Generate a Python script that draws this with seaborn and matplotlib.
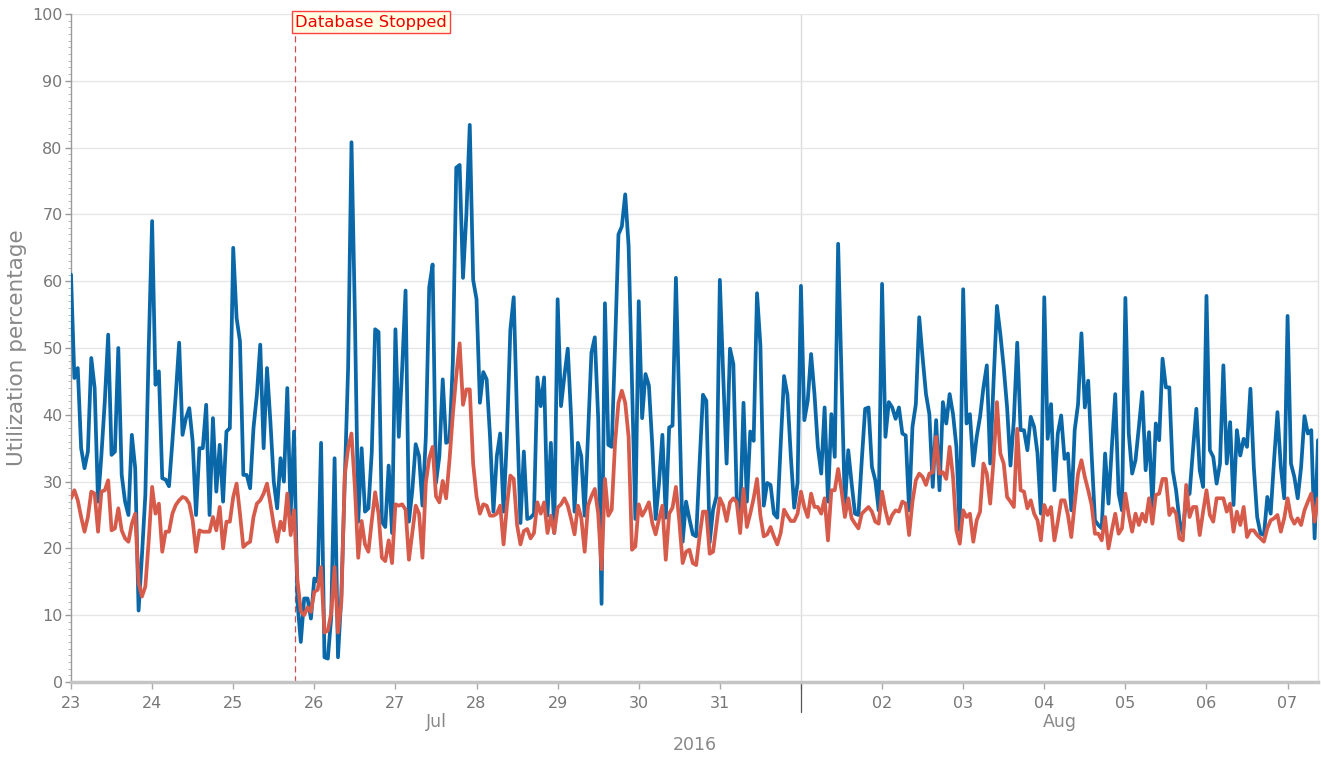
import numpy as np
import pandas as pd
import matplotlib
matplotlib.use("Agg")
import matplotlib.pyplot as plt
from matplotlib.ticker import MultipleLocator
import seaborn as sns

# hourly samples starting 2016-07-23 00:00, one row per day
start_time = "2016-07-23 00:00"

total_util = [
    61, 45.5, 47, 35, 32, 34.5, 48.5, 44, 27, 34, 42, 52, 34, 34.5, 50, 31, 27, 25, 37, 32, 10.7, 19, 28, 50,
    69, 44.5, 46.5, 30.5, 30.3, 29.3, 36, 43, 50.8, 37, 39.5, 41, 36, 25, 35, 35, 41.5, 25, 39.5, 28.5, 35.5, 27, 37.5, 38,
    65, 54.5, 51, 31, 31, 29, 38, 43, 50.5, 35, 47, 39, 30, 26, 33.5, 30, 44, 25, 37.5, 12, 6, 12.5, 12.5, 9.5,
    15.5, 15, 35.8, 3.7, 3.5, 9.7, 33.5, 3.7, 13, 30, 47, 80.8, 55, 24, 35, 25.5, 26, 34.4, 52.8, 52.4, 24, 23.2, 32.4, 22.3,
    52.8, 36.7, 47, 58.6, 24, 28.7, 35.6, 33.8, 26.4, 36.7, 59.1, 62.5, 29.8, 33.8, 45.3, 35.8, 36.1, 48, 77, 77.4, 60.5, 70, 83.4, 60.2,
    57.3, 41.8, 46.4, 45.3, 36.7, 25.5, 33.8, 37.2, 25.5, 36.7, 52.7, 57.6, 39.5, 23.8, 34.5, 24.4, 24.6, 25.2, 45.6, 41.3, 45.6, 24.9, 35.8, 22.3,
    57.3, 41.3, 45.8, 49.9, 39.5, 25.5, 35.8, 33.8, 24.9, 37.2, 49.3, 51.6, 39.5, 11.7, 56.7, 35.5, 35.2, 50.4, 67, 68.2, 73, 65.3, 45, 24.4,
    57, 39.5, 46.1, 44.4, 35.5, 24.4, 29.8, 37, 24.6, 38.1, 38.4, 60.5, 41.3, 21, 27, 24.4, 22.1, 21.8, 32.7, 43, 42.1, 20.9, 25.8, 27.8,
    60.2, 45.8, 32.7, 49.9, 47.6, 27.5, 24.6, 41.8, 27, 37.5, 36.1, 58.2, 50.4, 26.4, 29.8, 29.5, 25.2, 24.6, 35.5, 45.8, 43, 33.8, 26.1, 29.8,
    59.3, 39.2, 42.1, 49.1, 43.1, 35.2, 31.2, 41.1, 27, 40.1, 33.7, 65.6, 46.1, 26.2, 34.7, 29.7, 25.2, 25, 33.2, 40.9, 41.1, 32.2, 30.2, 25.7,
    59.6, 36.7, 41.9, 41.1, 39.4, 41.1, 37.2, 36.9, 25.7, 38.2, 41.6, 54.6, 48.6, 43.1, 40.1, 29.2, 39.2, 28.7, 41.9, 38.7, 43.1, 40.1, 35.2, 22.7,
    58.8, 38.7, 40.1, 32.4, 36.7, 39.7, 44.1, 47.4, 32.7, 45, 56.3, 52.1, 47.1, 41.1, 32.4, 39.2, 50.8, 37.7, 37.7, 34.7, 39.7, 38.2, 34.2, 25.2,
    57.6, 36.4, 41.6, 28.7, 37.2, 39.9, 33.4, 34.2, 25.7, 37.7, 41.6, 52.2, 41.1, 45.1, 34.2, 24.2, 23.5, 23, 34.2, 26.7, 35.2, 43.1, 28.2, 25.7,
    57.5, 37.2, 31.2, 33.2, 38.2, 43.4, 31.7, 37.4, 26.2, 38.7, 36.2, 48.4, 44.1, 44.1, 31.7, 28.7, 24.2, 22.2, 27.7, 28.2, 34.7, 40.9, 31.7, 29.2,
    57.8, 34.7, 33.7, 29.7, 32.7, 47.4, 32.7, 38.9, 26.5, 37.7, 33.9, 36.4, 35.2, 43.9, 32.2, 24.7, 22.2, 22, 27.7, 25.2, 33.2, 40.4, 32.2, 27.5,
    54.8, 32.7, 30.7, 27.5, 32.2, 39.8, 37.2, 37.7, 21.5, 36.2,
]

db_util = [
    27.5, 28.7, 27.2, 24.7, 22.5, 24.7, 28.5, 28.2, 22.5, 28.5, 28.7, 30.2, 22.7, 23, 26, 22.7, 21.5, 21, 23.7, 25.2, 14.8, 12.8, 14.3, 21.2,
    29.2, 25.2, 26.7, 19.5, 22.5, 22.5, 25.2, 26.5, 27.2, 27.7, 27.5, 26.7, 24.2, 19.5, 22.7, 22.5, 22.5, 22.5, 24.7, 22.7, 26.2, 20, 24, 24,
    27.7, 29.7, 25.2, 20.2, 20.7, 21, 24.7, 26.7, 27.2, 28.2, 29.7, 26.7, 23.5, 21, 24, 22.7, 28.2, 22, 25.7, 15.3, 10.6, 10, 11.2, 10.5,
    13.5, 13.8, 17.2, 7.4, 7.7, 10.3, 17.2, 7.4, 12, 30.9, 35, 37.2, 29.2, 18.6, 24.1, 20.6, 19.5, 24.1, 28.4, 25.2, 18.6, 18.1, 21.2, 17.8,
    26.6, 26.4, 26.6, 25.8, 18.3, 22.3, 26.4, 25.2, 18.6, 29.8, 33.5, 35.2, 27.8, 26.9, 30.1, 27.5, 33.2, 40.1, 45.8, 50.7, 41.5, 43.8, 43.8, 32.7,
    27.8, 25.2, 26.6, 26.4, 24.9, 24.9, 25.2, 26.4, 20.6, 26.4, 30.9, 30.4, 23.5, 20.6, 22.6, 22.9, 21.5, 22.3, 26.9, 25.2, 26.9, 22.3, 24.9, 22.3,
    26.1, 26.6, 27.5, 26.4, 24.4, 22.1, 26.4, 24.6, 19.5, 26.4, 27.8, 28.9, 25.2, 16.9, 30.4, 24.9, 25.8, 35.8, 41.8, 43.6, 41.8, 36.7, 19.8, 20.3,
    26.6, 24.9, 25.8, 26.9, 23.8, 22.1, 24.4, 26.4, 18.3, 25.2, 26.1, 29.2, 24.1, 17.8, 19.5, 19.8, 17.8, 17.5, 21.8, 25.5, 25.5, 19.2, 19.5, 23.5,
    27.5, 26.4, 24.1, 26.9, 27.5, 26.9, 22.3, 28.9, 23.2, 25.2, 27.5, 30.4, 24.9, 21.8, 22.1, 23.2, 21.8, 20.6, 22.3, 25.8, 24.9, 24.1, 24.1, 25.2,
    28.5, 26.2, 24.7, 28.2, 26.2, 26.2, 25.2, 27.5, 21.2, 28.7, 28.7, 31.9, 28.7, 24.7, 27.5, 24.5, 23.7, 23, 25.2, 25.7, 26.2, 25.5, 24, 23.7,
    28.5, 25.7, 23.7, 25, 25.7, 25.5, 27, 26.7, 22, 27, 30.2, 31.2, 30.7, 29.5, 31.2, 31.4, 36.7, 31.2, 31.4, 30.4, 35.2, 30.7, 22.7, 20.7,
    25.7, 24.7, 25.2, 21, 24.2, 25.5, 32.7, 31.2, 26.7, 33.2, 41.9, 34.2, 32.7, 27.7, 27, 26.2, 37.9, 28.7, 28.5, 26, 27.2, 25.2, 24.2, 21.2,
    26.5, 25, 26.2, 21.2, 24, 27.2, 27.2, 25, 21.7, 26.7, 31.2, 33.2, 30.7, 28.7, 26.5, 22.2, 22.2, 21.2, 24.7, 20, 22.7, 25.2, 22.2, 23,
    28.2, 25, 22.5, 25.2, 23.5, 25.2, 24, 27.5, 23.7, 28, 28.2, 30.4, 30.4, 25, 26, 25.2, 21.5, 21.2, 29.5, 24.7, 26.2, 26.2, 22, 25.5,
    28.7, 25, 24, 27.5, 27.5, 27.5, 25.5, 26.7, 22.5, 25.5, 23.5, 26.2, 21.7, 22.7, 22.7, 22, 21.5, 21, 23, 24.2, 24.5, 25, 22.5, 24.5,
    27.5, 24.7, 23.7, 24.5, 23.5, 25.7, 27, 28.2, 24, 27.5,
]

series_names = ["Total", "Database"]
series_colors = ["#0b68a8", "#d65b4b"]

tick_days = ["2016-07-23", "2016-07-24", "2016-07-25", "2016-07-26", "2016-07-27",
             "2016-07-28", "2016-07-29", "2016-07-30", "2016-07-31", "2016-08-01",
             "2016-08-02", "2016-08-03", "2016-08-04", "2016-08-05", "2016-08-06",
             "2016-08-07"]
tick_labels = ["23", "24", "25", "26", "27", "28", "29", "30", "31", "",
               "02", "03", "04", "05", "06", "07"]
month_names = ["Jul", "Aug"]
month_start = "2016-08-01"
year_label = "2016"
x_end = "2016-08-07 09:00"

stop_time = "2016-07-25 18:15"
stop_label = "Database Stopped"


def main():
    times = pd.date_range(start_time, periods=len(total_util), freq="h")
    df = pd.DataFrame({
        "time": list(times) + list(times),
        "util": total_util + db_util,
        "series": [series_names[0]] * len(total_util) + [series_names[1]] * len(db_util),
    })

    sns.set_theme(style="ticks")
    plt.rcParams["font.family"] = ["DejaVu Sans"]

    fig, ax = plt.subplots(figsize=(13.21, 7.58), dpi=100)
    fig.subplots_adjust(left=71 / 1321, right=1318 / 1321, bottom=1 - 682 / 758, top=1 - 14 / 758)

    ax.yaxis.grid(True, color="#e6e6e6", lw=1)
    ax.set_axisbelow(True)

    aug1 = pd.Timestamp(month_start)
    ax.axvline(aug1, color="#dcdcdc", lw=1, zorder=0)
    ax.plot([aug1, aug1], [0, -0.045], transform=ax.get_xaxis_transform(),
            color="#555555", lw=0.9, clip_on=False)

    stop = pd.Timestamp(stop_time)
    ax.axvline(stop, color="#c85050", lw=0.9, ls=(0, (5, 3)), zorder=1)

    sns.lineplot(data=df, x="time", y="util", hue="series", hue_order=series_names,
                 palette=series_colors, linewidth=2.7, estimator=None, legend=False,
                 ax=ax, zorder=3)

    ax.text(stop, 0.988, stop_label, transform=ax.get_xaxis_transform(),
            ha="left", va="center", color="#ee0000", fontsize=11.8, clip_on=False,
            bbox=dict(boxstyle="square,pad=0.2", fc="#ffffe4", ec="#ff4040", lw=1))

    ax.set_xlim(pd.Timestamp(start_time), pd.Timestamp(x_end))
    ax.set_ylim(0, 100)
    ax.yaxis.set_major_locator(MultipleLocator(10))
    ax.yaxis.set_minor_locator(MultipleLocator(1))
    ax.set_xticks(pd.to_datetime(tick_days))
    ax.set_xticklabels(tick_labels)

    ax.tick_params(axis="x", length=5, width=1, color="#aaaaaa", labelcolor="#777777",
                   labelsize=11.5, pad=5)
    ax.tick_params(axis="y", which="major", length=4, width=1, color="#999999",
                   labelcolor="#777777", labelsize=11.5, pad=2)
    ax.tick_params(axis="y", which="minor", length=2, width=0.6, color="#aaaaaa")

    ax.spines["top"].set_visible(False)
    ax.spines["left"].set_color("#999999")
    ax.spines["left"].set_linewidth(1)
    ax.spines["bottom"].set_color("#c4c4c4")
    ax.spines["bottom"].set_linewidth(2.5)
    ax.spines["right"].set_color("#e2e2e2")
    ax.spines["right"].set_linewidth(1)

    ax.set_xlabel("")
    ax.set_ylabel("Utilization percentage", fontsize=15.5, color="#888888", labelpad=4)

    t0 = pd.Timestamp(start_time)
    t1 = pd.Timestamp(x_end)
    month_mid = [t0 + (aug1 - t0) / 2, aug1 + (t1 - aug1) / 2]
    for name, mid in zip(month_names, month_mid):
        ax.text(mid, -0.06, name, transform=ax.get_xaxis_transform(), ha="center",
                va="center", fontsize=12.5, color="#888888")
    ax.text(0.5, -0.094, year_label, transform=ax.transAxes, ha="center", va="center",
            fontsize=12.5, color="#888888")

    fig.savefig("out.png", dpi=100)
    plt.close(fig)


if __name__ == "__main__":
    main()
